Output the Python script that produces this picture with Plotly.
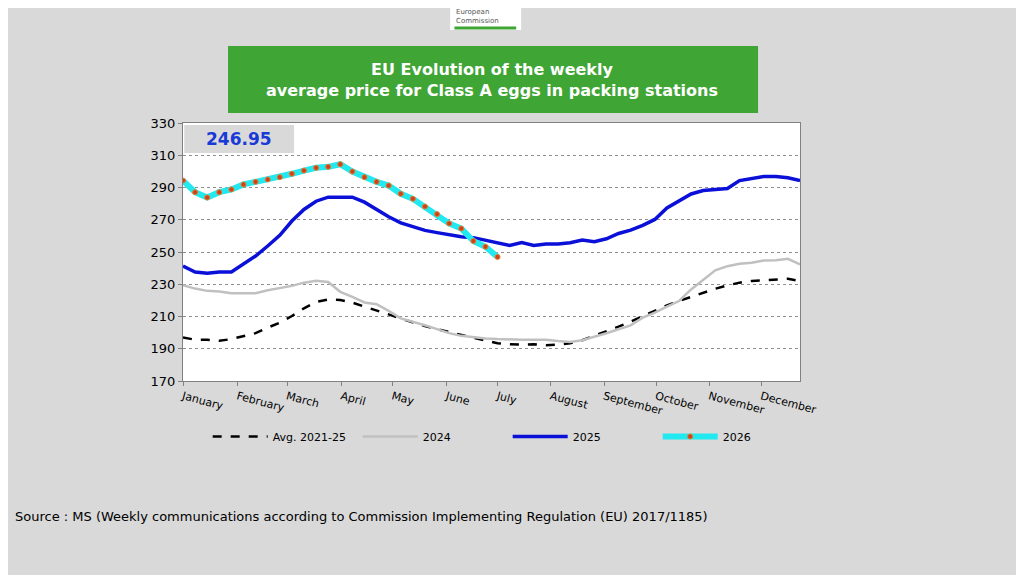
import plotly.graph_objects as go

weeks = list(range(1, 53))

avg_2125 = [197, 195.6, 195.6, 194.9, 196, 198, 199.7, 203.1, 206.2, 210.3, 215.1, 219, 220.6,
            220.2, 218.6, 216.1, 213.8, 211.3, 208.7, 206.2, 204.1, 202.1, 200.4, 198.6, 197, 195.3,
            193.4, 192.8, 192.5, 192.8, 192.2, 192.5, 193.4, 195.3, 198, 201, 203.7, 206.8, 210.3,
            213.8, 216.9, 219.6, 222.3, 224.7, 227.2, 229.3, 231, 232, 232.6, 233, 233.4, 232]
y2024 = [229.4, 227.3, 225.9, 225.5, 224.4, 224.4, 224.4, 226.3, 227.5, 229, 231, 232.1, 231.4,
         225.3, 222.2, 218.7, 217.6, 213.5, 208.8, 206.9, 204.6, 202.2, 199.7, 198, 197, 196.4,
         196, 195.6, 195.6, 195.6, 195.6, 194.8, 194.2, 195.3, 197.3, 199.6, 202.1, 204.5, 209.3,
         212.4, 216.1, 219.6, 226.8, 233, 238.6, 241.2, 242.7, 243.3, 244.7, 244.9, 245.8, 242.3]
y2025 = [241.3, 237.6, 236.8, 237.6, 237.6, 242.4, 247.5, 253.7, 260.3, 269.2, 276.4, 281.5, 284,
         284, 284, 280.9, 276.4, 271.9, 268.1, 265.5, 263.4, 262, 260.5, 259.5, 258.9, 257.2,
         255.8, 254.1, 255.8, 254.1, 255, 255, 255.8, 257.4, 256.4, 258.2, 261.5, 263.6, 266.5,
         270.2, 277.3, 281.5, 286, 288.1, 288.7, 289.4, 294.3, 295.4, 296.8, 296.8, 296, 294.3]
y2026 = [294.3, 287.1, 283.8, 287.1, 288.8, 291.9, 293.5, 295, 296.4, 298.5, 300.5, 302.2, 302.8,
         304.4, 299.9, 296.4, 293.5, 291.2, 286.1, 283, 278.2, 273.5, 267.7, 264.6, 256.8, 253.3,
         246.95]

month_pos = [1, 5.5, 9.6, 14.1, 18.3, 22.8, 27, 31.4, 35.8, 40.1, 44.5, 48.8]
months = ["January", "February", "March", "April", "May", "June", "July", "August",
          "September", "October", "November", "December"]
y_ticks = [170, 190, 210, 230, 250, 270, 290, 310, 330]
last_value = "246.95"

fig = go.Figure()
fig.add_trace(go.Scatter(x=weeks, y=avg_2125, name="Avg. 2021-25", mode="lines",
                         line=dict(color="black", width=2.5, dash="dash")))
fig.add_trace(go.Scatter(x=weeks, y=y2024, name="2024", mode="lines",
                         line=dict(color="#c0c0c0", width=2.5)))
fig.add_trace(go.Scatter(x=weeks, y=y2025, name="2025", mode="lines",
                         line=dict(color="#0a10d8", width=3.5)))
fig.add_trace(go.Scatter(x=weeks[:len(y2026)], y=y2026, name="2026", mode="lines+markers",
                         line=dict(color="#22e8f0", width=6),
                         marker=dict(color="#d0401a", size=5, line=dict(color="#e08030", width=1))))

fig.update_layout(
    width=1024, height=575,
    paper_bgcolor="#d9d9d9", plot_bgcolor="white",
    margin=dict(l=175, r=232, t=115, b=202),
    font=dict(family="DejaVu Sans", size=13, color="black"),
    showlegend=True,
    legend=dict(orientation="h", x=0.04, y=-0.215, xanchor="left", yanchor="middle",
                entrywidth=80, itemwidth=55, font=dict(size=11), bgcolor="rgba(0,0,0,0)"),
    xaxis=dict(range=[1, 52], tickvals=month_pos, ticktext=months, tickangle=15,
               showgrid=False, showline=True, linecolor="#808080", ticks="outside",
               ticklen=4, tickcolor="#808080", tickfont=dict(size=11), mirror=True),
    yaxis=dict(range=[170, 330], tickvals=y_ticks, showgrid=True, gridcolor="#909090",
               griddash="dot", showline=True, linecolor="#808080", ticks="outside",
               ticklen=4, tickcolor="#808080", mirror=True, zeroline=False),
    shapes=[
        dict(type="rect", xref="paper", yref="paper", x0=0.073, x1=0.932, y0=1.039, y1=1.298,
             fillcolor="#3fa535", line=dict(width=0), layer="above"),
        dict(type="rect", xref="paper", yref="paper", x0=0.002, x1=0.18, y0=0.884, y1=0.992,
             fillcolor="#d9d9d9", line=dict(width=0), layer="below"),
        dict(type="rect", xref="paper", yref="paper", x0=0.433, x1=0.548, y0=1.36, y1=1.5,
             fillcolor="white", line=dict(width=0)),
        dict(type="line", xref="paper", yref="paper", x0=0.44, x1=0.54, y0=1.368, y1=1.368,
             line=dict(color="#3fa535", width=3)),
    ],
    annotations=[
        dict(xref="paper", yref="paper", x=0.5, y=1.168, xanchor="center", yanchor="middle",
             showarrow=False,
             text="<b>EU Evolution of the weekly<br>average price for Class A eggs in packing stations</b>",
             font=dict(color="white", size=16)),
        dict(xref="paper", yref="paper", x=0.091, y=0.938, xanchor="center", yanchor="middle",
             showarrow=False,
             text="<b>" + last_value + "</b>", font=dict(color="#1a3ad8", size=17)),
        dict(xref="paper", yref="paper", x=0.44, y=1.372, xanchor="left", yanchor="bottom",
             showarrow=False,
             text="European<br>Commission", align="left", font=dict(color="#555", size=7)),
        dict(xref="paper", yref="paper", x=-0.276, y=-0.527, xanchor="left", yanchor="middle",
             showarrow=False,
             text="Source : MS (Weekly communications according to Commission Implementing Regulation (EU) 2017/1185)",
             font=dict(size=13)),
    ],
)

fig.write_html("out.html")
